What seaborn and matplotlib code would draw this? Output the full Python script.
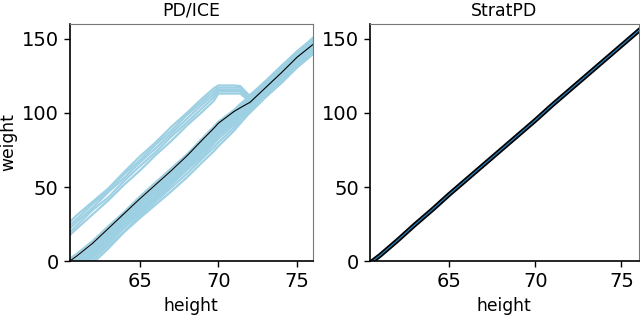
import numpy as np
import pandas as pd
import matplotlib
matplotlib.use("Agg")
import matplotlib.pyplot as plt
import seaborn as sns

# height grid shared by all ICE curves
heights = [60.55, 61, 62, 63, 64, 65, 66, 67, 68, 69, 69.7, 70, 71, 71.4, 71.9, 72, 73, 74, 75, 76]

# upper ICE group (lines that plateau near 70-71.4)
ice_upper = [
    [17.5, 22.0, 31.5, 41.0, 51.5, 61.0, 71.5, 81.0, 91.5, 101.0, 108.0, 113.0, 113.0, 113.0, 108.5, 108.0, 116.5, 126.0, 136.5, 145.5],
    [19.5, 24.0, 34.5, 43.0, 54.0, 64.0, 73.5, 84.0, 93.5, 103.5, 110.5, 114.5, 114.5, 114.5, 109.5, 109.0, 118.0, 128.0, 138.0, 147.5],
    [22.0, 26.5, 36.0, 46.5, 56.0, 66.5, 76.0, 86.0, 96.0, 106.0, 112.5, 115.5, 115.5, 115.5, 110.5, 110.0, 119.0, 129.5, 139.5, 148.5],
    [24.0, 28.5, 38.5, 47.5, 58.5, 68.0, 78.5, 88.0, 98.5, 108.0, 114.5, 117.0, 117.0, 117.0, 111.5, 111.0, 120.5, 130.0, 140.5, 149.5],
    [26.5, 31.0, 40.0, 49.0, 60.0, 70.5, 80.0, 90.5, 100.0, 110.0, 116.5, 118.5, 118.5, 118.0, 112.5, 112.0, 121.0, 131.5, 141.0, 150.5],
]

# lower ICE group
ice_lower = [
    [-13, -9.5, -1.5, 8.5, 19.5, 29, 38, 47, 56.5, 67, 74, 77.5, 88, 93, 99, 100, 110.5, 120, 130.5, 139.5],
    [-11.5, -8, 0.5, 10.5, 20, 30.5, 40, 49.5, 59, 69.5, 76.5, 80, 90, 95, 100.5, 101, 111, 121.5, 131.5, 140],
    [-10, -6.5, 2.5, 12, 22.5, 32, 41, 51.5, 61.5, 71, 79, 82.5, 92, 97, 101.5, 102, 112.5, 122, 132.5, 141],
    [-9, -5.5, 3.5, 13.5, 22.5, 33.5, 42, 52.5, 62, 73, 80.5, 84.5, 93.5, 98.5, 102.5, 103, 113, 123.5, 133, 142],
    [-8, -4.5, 4.5, 14, 24.5, 34, 43.5, 53, 63.5, 74, 81.5, 85, 95, 100, 103.5, 104, 114.5, 124, 134.5, 143],
    [-7, -3.5, 5, 15.5, 25, 35.5, 44.5, 54.5, 64, 75.5, 83, 86.5, 96, 101, 104.5, 105, 115, 125.5, 135, 144],
    [-6, -2.5, 6.5, 16, 26.5, 36, 46, 55, 65.5, 76, 84, 87.5, 97.5, 102, 105.5, 106, 116.5, 126, 136.5, 145],
    [-5, -1.5, 7, 17.5, 27, 37.5, 46.5, 56.5, 66, 77.5, 85, 88.5, 98, 102.5, 106, 107, 117, 127.5, 137, 146.5],
    [-4, -0.5, 8.5, 18, 28.5, 38, 48, 57.5, 67.5, 78, 86, 89.5, 99, 103.5, 107, 108, 118.5, 128, 138.5, 147],
    [-3, 0.5, 9, 19.5, 29, 39.5, 48.5, 58.5, 68, 79.5, 87, 90.5, 100, 104.5, 108, 109, 119, 129.5, 139, 148],
    [-1.5, 2, 10.5, 20.5, 30.5, 40.5, 50, 59.5, 69.5, 80.5, 88, 91.5, 100.5, 105, 109, 110, 120.5, 130, 140.5, 149],
    [1.5, 5, 13.5, 23.5, 33, 43.5, 53, 62.5, 72, 83, 90.5, 94, 102, 106, 110.5, 111.5, 121.5, 131.5, 141.5, 150],
]

# partial dependence (average) curve
pd_curve = [0, 3.5, 12, 22, 32, 42, 51.5, 61, 71, 82, 89.5, 93, 101, 103.5, 106.5, 107, 117, 127, 137.5, 146]

# StratPD curve
strat_heights = [60.55, 61, 62, 63, 64, 65, 66, 67, 68, 69, 70, 71, 72, 73, 74, 75, 76]
strat_weight = [0, 4, 14, 24.5, 34.5, 45, 55, 65, 75, 85, 95, 105.5, 115.5, 125.5, 135.5, 145.5, 155.5]

rows = []
for i, line in enumerate(ice_upper + ice_lower):
    for h, w in zip(heights, line):
        rows.append({'line': i, 'height': h, 'weight': w})
ice_df = pd.DataFrame(rows)
pd_df = pd.DataFrame({'height': heights, 'weight': pd_curve})
strat_df = pd.DataFrame({'height': strat_heights, 'weight': strat_weight})

ice_color = '#9dd0e3'

fig = plt.figure(figsize=(6.4, 3.15), dpi=100)
ax1 = fig.add_axes([0.109, 0.171, 0.3796, 0.753])
ax2 = fig.add_axes([0.578, 0.171, 0.42, 0.753])

sns.lineplot(data=ice_df, x='height', y='weight', units='line', estimator=None,
             color=ice_color, lw=1.6, ax=ax1)
sns.lineplot(data=pd_df, x='height', y='weight', color='black', lw=0.8, ax=ax1)
ax1.set_xlim(60.55, 76)
ax1.set_title('PD/ICE', fontsize=12.5)

sns.lineplot(data=strat_df, x='height', y='weight', color='black', lw=3.4, ax=ax2)
sns.lineplot(data=strat_df, x='height', y='weight', color='#2c7fb8', lw=0.9, ax=ax2)
ax2.set_xlim(60.4, 76)
ax2.set_title('StratPD', fontsize=12.5)

ax1.set_ylabel('weight', fontsize=12.3)
ax1.yaxis.set_label_coords(-0.218, 0.5)
ax2.set_ylabel('')
for ax in (ax1, ax2):
    ax.set_ylim(0, 160)
    ax.set_xticks([65, 70, 75])
    ax.set_yticks([0, 50, 100, 150])
    ax.set_xlabel('height', fontsize=12.3)
    ax.tick_params(labelsize=14, length=4.5, width=1)
    for s in ('left', 'bottom'):
        ax.spines[s].set_color('black')
        ax.spines[s].set_linewidth(1.2)
    for s in ('top', 'right'):
        ax.spines[s].set_color('#777777')
        ax.spines[s].set_linewidth(0.8)

fig.savefig('out.png', dpi=100)
